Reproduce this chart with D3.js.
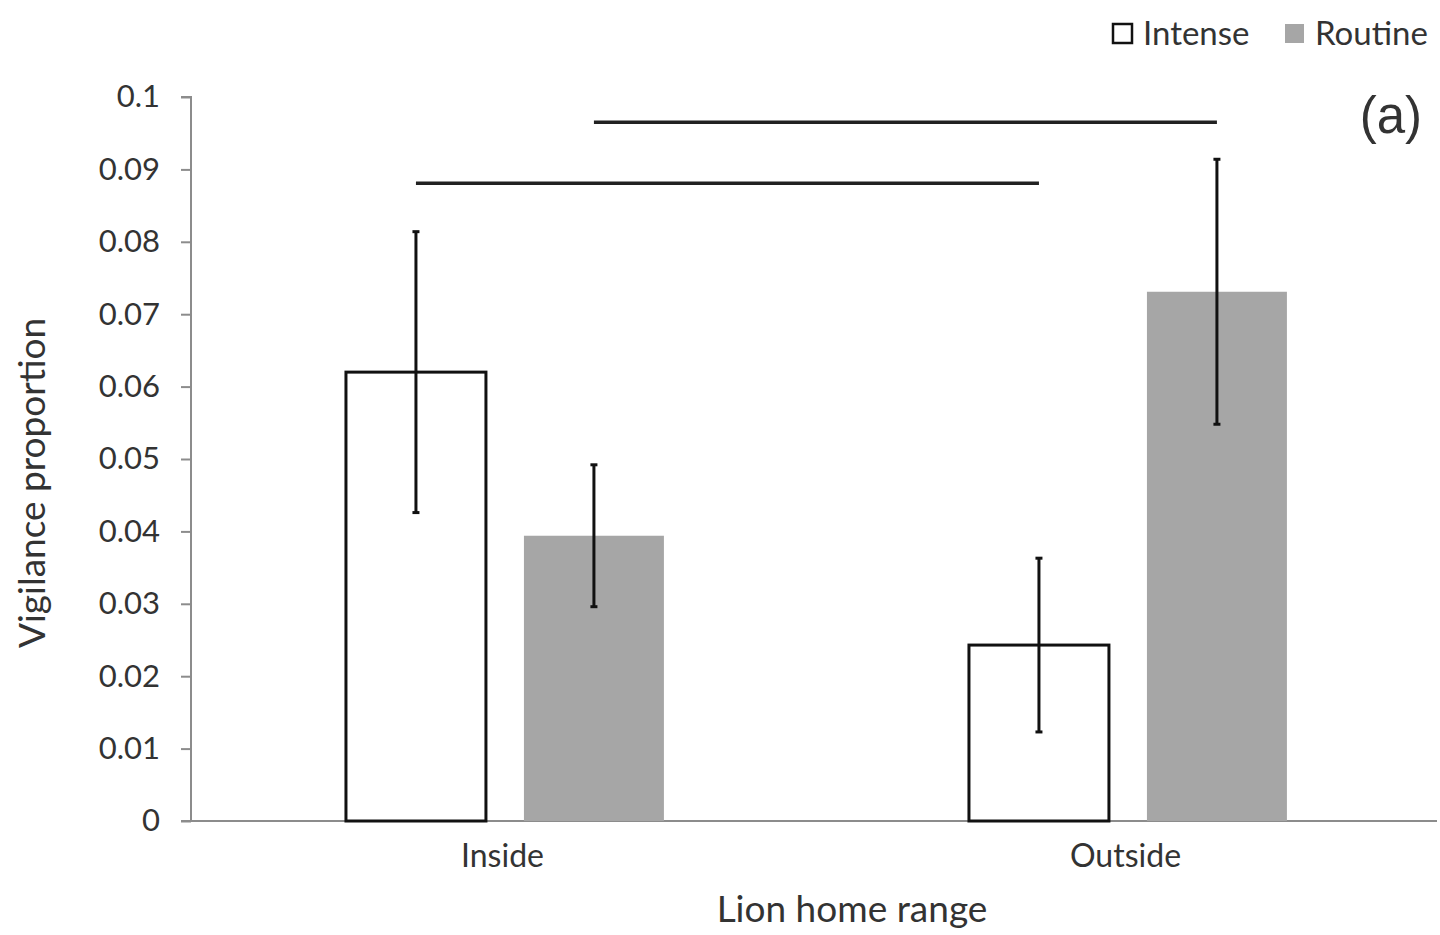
<!DOCTYPE html>
<html>
<head>
<meta charset="utf-8">
<script src="https://cdn.jsdelivr.net/npm/d3@7"></script>
<style>
  html, body { margin: 0; padding: 0; background: #fff; }
  svg { display: block; }
  text { font-family: Lato, "Open Sans", sans-serif; fill: #333; }
</style>
</head>
<body>
<svg id="chart" width="1440" height="935"></svg>
<script>
// Vigilance proportion by lion home range and disturbance type
const categories = ["Inside", "Outside"];
const seriesNames = ["Intense", "Routine"];
const intenseValues = [0.0620, 0.0243];
const routineValues = [0.0394, 0.0731];
const intenseErrors = [0.0194, 0.0120];
const routineErrors = [0.0098, 0.0183];
const yTicks = [0, 0.01, 0.02, 0.03, 0.04, 0.05, 0.06, 0.07, 0.08, 0.09, 0.1];
const yTickLabels = ["0", "0.01", "0.02", "0.03", "0.04", "0.05", "0.06", "0.07", "0.08", "0.09", "0.1"];
// significance brackets: [category, series] to [category, series] at a level
const brackets = [
  { from: ["Inside", "Intense"], to: ["Outside", "Intense"], level: 0.0881 },
  { from: ["Inside", "Routine"], to: ["Outside", "Routine"], level: 0.0965 }
];

const seriesValues = { Intense: intenseValues, Routine: routineValues };
const seriesErrors = { Intense: intenseErrors, Routine: routineErrors };
const rows = [];
categories.forEach((c, i) => seriesNames.forEach(s => rows.push({
  category: c, series: s, value: seriesValues[s][i], err: seriesErrors[s][i]
})));

const svg = d3.select("#chart");
const plotLeft = 191, plotRight = 1437, plotTop = 97, plotBottom = 821;

const x0 = d3.scaleBand().domain(categories).range([plotLeft, plotRight]).paddingInner(0).paddingOuter(0);
const x1 = d3.scaleBand().domain(seriesNames).range([0, x0.bandwidth()]).paddingInner(0.2135).paddingOuter(0.857).align(0.508);
const y = d3.scaleLinear().domain([0, 0.1]).range([plotBottom, plotTop]);
const fill = d3.scaleOrdinal().domain(seriesNames).range(["#ffffff", "#a6a6a6"]);

// y axis
const yAxis = svg.append("g")
  .attr("transform", `translate(${plotLeft},0)`)
  .call(d3.axisLeft(y).tickValues(yTicks).tickFormat((d, i) => yTickLabels[i]).tickSize(10).tickPadding(21));
yAxis.select(".domain").attr("stroke", "#8c8c8c").attr("stroke-width", 2).attr("d", `M-10,${plotTop}H0V${plotBottom}`);
yAxis.selectAll(".tick line").attr("stroke", "#8c8c8c").attr("stroke-width", 2);
yAxis.selectAll(".tick text").style("font-size", "31px").style("font-family", "Lato, 'Open Sans', sans-serif").attr("fill", "#333");

// x axis
const xAxis = svg.append("g")
  .attr("transform", `translate(0,${plotBottom})`)
  .call(d3.axisBottom(x0).tickSize(0).tickPadding(23));
xAxis.select(".domain").attr("stroke", "#8c8c8c").attr("stroke-width", 2).attr("d", `M${plotLeft - 10},0H${plotRight}`);
xAxis.selectAll(".tick text").style("font-size", "32px").style("font-family", "Lato, 'Open Sans', sans-serif").attr("fill", "#333");

// bars
const bx = d => x0(d.category) + x1(d.series);
svg.append("g").selectAll("rect").data(rows).join("rect")
  .attr("x", d => bx(d))
  .attr("y", d => y(d.value))
  .attr("width", x1.bandwidth())
  .attr("height", d => y(0) - y(d.value))
  .attr("fill", d => fill(d.series))
  .attr("stroke", d => d.series === "Intense" ? "#111" : "none")
  .attr("stroke-width", 3);

// error bars
const eb = svg.append("g").attr("stroke", "#111").attr("stroke-width", 3);
rows.forEach(d => {
  const cx = bx(d) + x1.bandwidth() / 2;
  eb.append("line").attr("x1", cx).attr("x2", cx).attr("y1", y(d.value + d.err)).attr("y2", y(d.value - d.err));
  [d.value + d.err, d.value - d.err].forEach(v => {
    eb.append("line").attr("x1", cx - 3.5).attr("x2", cx + 3.5).attr("y1", y(v)).attr("y2", y(v));
  });
});

// significance brackets
const bg = svg.append("g").attr("stroke", "#222").attr("stroke-width", 3.5);
brackets.forEach(b => {
  const xa = x0(b.from[0]) + x1(b.from[1]) + x1.bandwidth() / 2;
  const xb = x0(b.to[0]) + x1(b.to[1]) + x1.bandwidth() / 2;
  bg.append("line").attr("x1", xa).attr("x2", xb).attr("y1", y(b.level)).attr("y2", y(b.level));
});

// axis titles
svg.append("text").attr("x", 852).attr("y", 922)
  .attr("text-anchor", "middle").style("font-size", "37px").text("Lion home range");
svg.append("text").attr("transform", "translate(45,483) rotate(-90)")
  .attr("text-anchor", "middle").style("font-size", "37px").text("Vigilance proportion");

// panel label
svg.append("text").attr("x", 1422).attr("y", 133).attr("text-anchor", "end")
  .style("font-family", "'Liberation Sans', Arial, sans-serif").style("font-size", "51px").attr("fill", "#111").text("(a)");

// legend
const legend = svg.append("g");
const legendItems = [{ s: "Intense", x: 1113 }, { s: "Routine", x: 1285 }];
legendItems.forEach(it => {
  legend.append("rect").attr("x", it.x).attr("y", 24).attr("width", 19).attr("height", 19)
    .attr("fill", fill(it.s)).attr("stroke", it.s === "Intense" ? "#111" : "none").attr("stroke-width", 2.5);
  legend.append("text").attr("x", it.x + 30).attr("y", 45).style("font-size", "33px").text(it.s);
});
</script>
</body>
</html>
